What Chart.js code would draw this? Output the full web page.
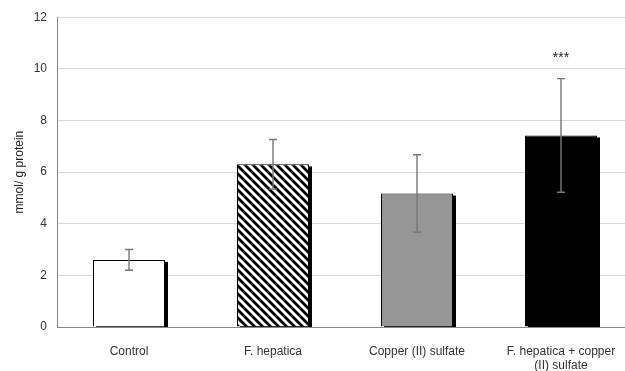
<!DOCTYPE html>
<html>
<head>
<meta charset="utf-8">
<script src="https://cdn.jsdelivr.net/npm/chart.js@4"></script>
<style>
  body { margin: 0; overflow: hidden; background: #fff; }
  #wrap { width: 625px; height: 371px; overflow: hidden; }
</style>
</head>
<body>
<div id="wrap"><canvas id="barChart" width="640" height="371"></canvas></div>
<script>
// data
const categories = ["Control", "F. hepatica", "Copper (II) sulfate", ["F. hepatica + copper", "(II) sulfate"]];
const means = [2.6, 6.3, 5.17, 7.42];
const errors = [0.4, 0.96, 1.5, 2.2];
const marks = ["", "", "", "***"];
const yTicks = [0, 2, 4, 6, 8, 10, 12];

// diagonal hatch for the second bar
function hatch() {
    const c = document.createElement('canvas');
    c.width = 8; c.height = 8;
    const g = c.getContext('2d');
    g.fillStyle = '#fff';
    g.fillRect(0, 0, 8, 8);
    g.strokeStyle = '#000';
    g.lineWidth = 2.8;
    g.beginPath();
    g.moveTo(-1, -1); g.lineTo(9, 9);
    g.moveTo(-5, 3); g.lineTo(5, 13);
    g.moveTo(3, -5); g.lineTo(13, 5);
    g.stroke();
    return g.createPattern(c, 'repeat');
}

const ctx = document.getElementById('barChart').getContext('2d');
const fills = ['#ffffff', hatch(), '#969696', '#000000'];
const font = '"Liberation Sans", Arial, sans-serif';

// black drop shadow on the right of each bar
const shadowPlugin = {
    id: 'shadow',
    beforeDatasetsDraw(chart) {
        const c = chart.ctx;
        const base = chart.scales.y.getPixelForValue(0);
        c.save();
        c.fillStyle = '#000';
        chart.getDatasetMeta(0).data.forEach(b => {
            const w = b.width;
            c.fillRect(b.x - w / 2 + 3, b.y + 2, w, base - b.y - 2);
        });
        c.restore();
    }
};

// error bars and significance stars
const errorPlugin = {
    id: 'errs',
    afterDatasetsDraw(chart) {
        const c = chart.ctx;
        const y = chart.scales.y;
        c.save();
        c.strokeStyle = '#777';
        c.lineWidth = 1.4;
        chart.getDatasetMeta(0).data.forEach((b, i) => {
            const hi = y.getPixelForValue(means[i] + errors[i]);
            const lo = y.getPixelForValue(means[i] - errors[i]);
            c.beginPath();
            c.moveTo(b.x, hi); c.lineTo(b.x, lo);
            c.moveTo(b.x - 4, hi); c.lineTo(b.x + 4, hi);
            c.moveTo(b.x - 4, lo); c.lineTo(b.x + 4, lo);
            c.stroke();
            if (marks[i]) {
                c.fillStyle = '#222';
                c.font = '14px ' + font;
                c.textAlign = 'center';
                c.textBaseline = 'bottom';
                c.fillText(marks[i], b.x, hi - 14);
            }
        });
        c.restore();
    }
};

const chart = new Chart(ctx, {
    type: 'bar',
    data: {
        labels: categories,
        datasets: [{
            data: means,
            backgroundColor: fills,
            borderColor: '#000',
            borderWidth: 1,
            barPercentage: 0.5,
            categoryPercentage: 1
        }]
    },
    options: {
        responsive: false,
        animation: false,
        layout: { padding: { top: 16, right: 7, left: 12, bottom: 0 } },
        plugins: { legend: { display: false }, tooltip: { enabled: false } },
        scales: {
            x: {
                grid: { display: false },
                border: { color: '#888', width: 1 },
                ticks: {
                    color: '#333',
                    font: { family: font, size: 12 },
                    padding: 9,
                    maxRotation: 0,
                    autoSkip: false
                },
                afterFit: s => { s.height = 44; }
            },
            y: {
                min: 0,
                max: 12,
                afterBuildTicks: s => { s.ticks = yTicks.map(v => ({ value: v })); },
                grid: { color: '#d9d9d9', drawTicks: false },
                border: { color: '#888', width: 1 },
                ticks: {
                    color: '#333',
                    font: { family: font, size: 12 },
                    padding: 10
                },
                title: {
                    display: true,
                    text: 'mmol/ g protein',
                    color: '#222',
                    font: { family: font, size: 12 },
                    padding: { top: 0, bottom: 6 }
                },
                afterFit: s => { s.width = 45; }
            }
        }
    },
    plugins: [shadowPlugin, errorPlugin]
});
</script>
</body>
</html>
